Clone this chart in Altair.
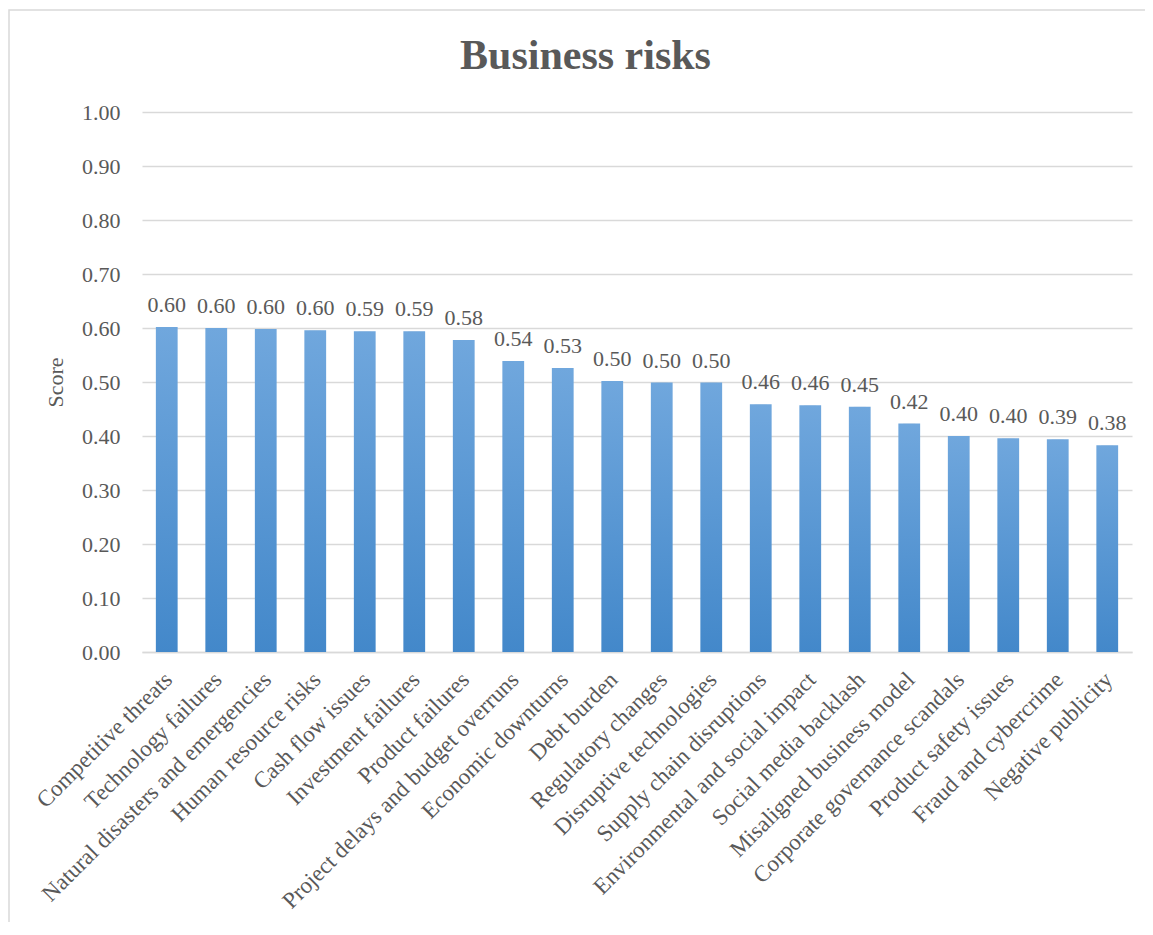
import altair as alt
import pandas as pd

categories = [
    "Competitive threats", "Technology failures", "Natural disasters and emergencies",
    "Human resource risks", "Cash flow issues", "Investment failures", "Product failures",
    "Project delays and budget overruns", "Economic downturns", "Debt burden",
    "Regulatory changes", "Disruptive technologies", "Supply chain disruptions",
    "Environmental and social impact", "Social media backlash", "Misaligned business model",
    "Corporate governance scandals", "Product safety issues", "Fraud and cybercrime",
    "Negative publicity",
]
scores = [0.602, 0.600, 0.598, 0.596, 0.594, 0.594, 0.578, 0.539, 0.526, 0.502,
          0.499, 0.499, 0.459, 0.457, 0.454, 0.423, 0.400, 0.396, 0.394, 0.383]
y_ticks = [0.0, 0.1, 0.2, 0.3, 0.4, 0.5, 0.6, 0.7, 0.8, 0.9, 1.0]

df = pd.DataFrame({"Risk": categories, "Score": scores})

FONT = "Liberation Serif"
TXT = "#595959"
W, H = 990, 540

xenc = alt.X("Risk:N", sort=None,
             scale=alt.Scale(paddingInner=0.56, paddingOuter=0.28),
             axis=alt.Axis(title=None, labelAngle=-45, labelAlign="right",
                           labelBaseline="top", labelPadding=16, labelOffset=-6,
                           ticks=False,
                           domainColor="#d9d9d9", domainWidth=1.5,
                           labelFont=FONT, labelFontSize=23, labelColor=TXT,
                           labelLimit=500))
yenc = alt.Y("Score:Q", scale=alt.Scale(domain=[0, 1], nice=False),
             axis=alt.Axis(title="Score", values=y_ticks, format=".2f",
                           ticks=False, domain=False, labelPadding=22,
                           gridColor="#d9d9d9", gridWidth=1.3,
                           labelFont=FONT, labelFontSize=22, labelColor=TXT,
                           titleFont=FONT, titleFontSize=22, titleColor=TXT,
                           titleFontWeight="normal", titleX=-87, titleY=270,
                           titleAngle=270, titleAlign="center",
                           titleBaseline="middle"))

base = alt.Chart(df)

shadow = base.mark_bar(color="#b0b0b0", opacity=0.25,
                       width=alt.RelativeBandSize(0.56)).encode(x=xenc, y=yenc)

bars = base.mark_bar(
    color=alt.Gradient(
        gradient="linear", x1=0, x2=0, y1=0, y2=1,
        stops=[alt.GradientStop(color="#70a7dd", offset=0),
               alt.GradientStop(color="#4388ca", offset=1)],
    )
).encode(x=xenc, y=yenc)

labels = base.mark_text(font=FONT, fontSize=22, color=TXT, baseline="alphabetic",
                        dy=-15).encode(x=xenc, y=yenc,
                                       text=alt.Text("Score:Q", format=".2f"))

border = alt.Chart(alt.Data(values=[{"a": 1}])).mark_rect(
    fill=None, stroke="#d9d9d9", strokeWidth=1.5
).encode(x=alt.value(-133), x2=alt.value(1040), y=alt.value(-102), y2=alt.value(900))

chart = alt.layer(border, shadow, bars, labels).properties(
    width=W, height=H,
    title=alt.TitleParams("Business risks", font=FONT, fontSize=42,
                          fontWeight="bold", color=TXT, anchor="middle",
                          frame="bounds", offset=-102, baseline="alphabetic", dx=-10),
    autosize=alt.AutoSizeParams(type="none"),
    padding={"left": 134, "top": 104, "right": 13, "bottom": 270},
).configure_view(stroke=None)

chart.save("out.html", embed_options={"renderer": "svg", "actions": False})
